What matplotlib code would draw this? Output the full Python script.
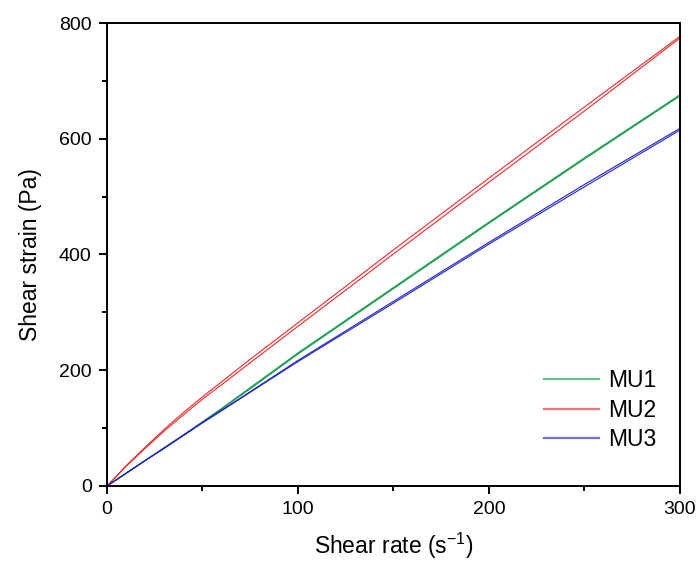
"""
plot.py - shear strain vs shear rate loops (MU1, MU2, MU3)
"""

import numpy as np
import matplotlib
matplotlib.use('Agg')
import matplotlib.pyplot as plt
from matplotlib.ticker import MultipleLocator

plt.rcParams['font.family'] = ['Liberation Sans', 'DejaVu Sans']
plt.rcParams['mathtext.default'] = 'regular'

# 剪切速率 (s^-1)
shear_rate = [0, 5, 10, 20, 30, 40, 50, 60, 75, 100, 150, 200, 250, 300]

# 每个样品: 上升段 / 下降段
mu1_up = [0, 11, 22, 44, 66, 88, 110, 133, 168, 228, 341, 454, 565, 674]
mu1_down = [0, 11, 22, 44, 66, 88, 111, 134, 170, 230, 343, 456, 567, 676]
mu2_up = [0, 17, 34, 65, 95, 123, 150, 175, 213, 276, 401, 525, 648, 774]
mu2_down = [0, 17, 35, 67, 98, 127, 154, 180, 219, 282, 408, 532, 655, 777]
mu3_up = [0, 11, 22, 44, 65, 87, 109, 130, 162, 215, 316, 418, 517, 615]
mu3_down = [0, 11, 22, 44, 66, 88, 110, 131, 163, 217, 319, 421, 521, 618]

labels = ['MU1', 'MU2', 'MU3']
colors = ['#129a48', '#e82a2a', '#2222c4']

fig = plt.figure(figsize=(6.97, 5.61), dpi=100)
ax = fig.add_axes([0.1535, 0.1337, 0.8221, 0.8253])

series = [(mu1_up, mu1_down), (mu2_up, mu2_down), (mu3_up, mu3_down)]
for (up, down), label, color in zip(series, labels, colors):
    ax.plot(shear_rate, up, '-', color=color, lw=0.8, label=label)
    ax.plot(shear_rate, down, '-', color=color, lw=0.8)

ax.set_xlim(0, 300)
ax.set_ylim(0, 800)
ax.xaxis.set_major_locator(MultipleLocator(100))
ax.xaxis.set_minor_locator(MultipleLocator(50))
ax.yaxis.set_major_locator(MultipleLocator(200))
ax.yaxis.set_minor_locator(MultipleLocator(100))

for spine in ax.spines.values():
    spine.set_linewidth(1.4)
ax.tick_params(which='major', direction='out', length=6, width=1.4,
               labelsize=14, pad=5)
ax.tick_params(which='minor', direction='out', length=3.5, width=1.4)

ax.set_xlabel('Shear rate (s$^{-1}$)', fontsize=16.5, labelpad=9)
ax.set_ylabel('Shear strain (Pa)', fontsize=16.5, labelpad=12)

leg = ax.legend(loc='lower right', fontsize=16.5, frameon=False,
                handlelength=2.4, handletextpad=0.4, labelspacing=0.3,
                bbox_to_anchor=(0.995, 0.03))
for line in leg.get_lines():
    line.set_linewidth(1.6)
    line.set_alpha(0.65)

fig.savefig('out.png', dpi=100)
